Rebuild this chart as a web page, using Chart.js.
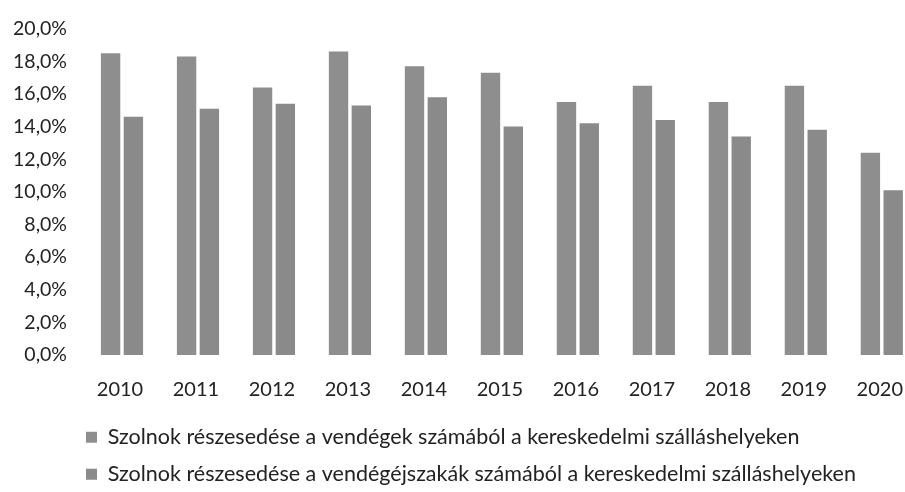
<!DOCTYPE html>
<html>
<head>
<meta charset="utf-8">
<script src="https://cdn.jsdelivr.net/npm/chart.js@4"></script>
<style>
  html, body { margin: 0; padding: 0; background: #fff; overflow: hidden; }
  #wrap { position: relative; width: 928px; height: 495px; }
</style>
</head>
<body>
<div id="wrap"><canvas id="myChart"></canvas></div>
<script>
const years = ['2010', '2011', '2012', '2013', '2014', '2015', '2016', '2017', '2018', '2019', '2020'];

// részesedés a vendégek számából (%)
const guestShare = [18.5, 18.3, 16.4, 18.6, 17.7, 17.3, 15.5, 16.5, 15.5, 16.5, 12.4];

// részesedés a vendégéjszakák számából (%)
const nightShare = [14.6, 15.1, 15.4, 15.3, 15.8, 14.0, 14.2, 14.4, 13.4, 13.8, 10.1];

const seriesNames = [
    'Szolnok részesedése a vendégek számából a kereskedelmi szálláshelyeken',
    'Szolnok részesedése a vendégéjszakák számából a kereskedelmi szálláshelyeken'
];

const fontFamily = 'Lato, "Open Sans", sans-serif';
const legendPad = 15.5;

// move the legend rows so they start just under the axis labels
const legendShift = {
    id: 'legendShift',
    afterLayout(chart) {
        chart.legend.left = 86 - legendPad;
    }
};

const ctx = document.getElementById('myChart').getContext('2d');

const myChart = new Chart(ctx, {
    type: 'bar',
    data: {
        labels: years,
        datasets: [{
            label: seriesNames[0],
            data: guestShare,
            backgroundColor: '#8e8e8e',
            categoryPercentage: 0.6,
            barPercentage: 0.85
        }, {
            label: seriesNames[1],
            data: nightShare,
            backgroundColor: '#8a8a8a',
            categoryPercentage: 0.6,
            barPercentage: 0.85
        }]
    },
    options: {
        responsive: true,
        maintainAspectRatio: false,
        animation: false,
        layout: {
            padding: { top: 22.5, left: 13, right: 0, bottom: 0 }
        },
        plugins: {
            tooltip: { enabled: false },
            legend: {
                position: 'bottom',
                align: 'start',
                fullSize: false,
                labels: {
                    boxWidth: 11,
                    boxHeight: 11,
                    padding: legendPad,
                    color: '#222',
                    font: { family: fontFamily, size: 21.5 }
                }
            }
        },
        scales: {
            x: {
                grid: { display: false, drawTicks: false },
                border: { display: false },
                ticks: {
                    color: '#222',
                    padding: 23,
                    labelOffset: -2,
                    font: { family: fontFamily, size: 20 }
                },
                afterFit: function(scale) { scale.height = 56; }
            },
            y: {
                min: 0,
                max: 20,
                grid: { display: false, drawTicks: false },
                border: { display: false },
                ticks: {
                    stepSize: 2,
                    color: '#222',
                    padding: 17,
                    font: { family: fontFamily, size: 19.5 },
                    callback: function(value) {
                        return value.toFixed(1).replace('.', ',') + '%';
                    }
                },
                afterFit: function(scale) { scale.width = 71; }
            }
        }
    },
    plugins: [legendShift]
});
</script>
</body>
</html>
